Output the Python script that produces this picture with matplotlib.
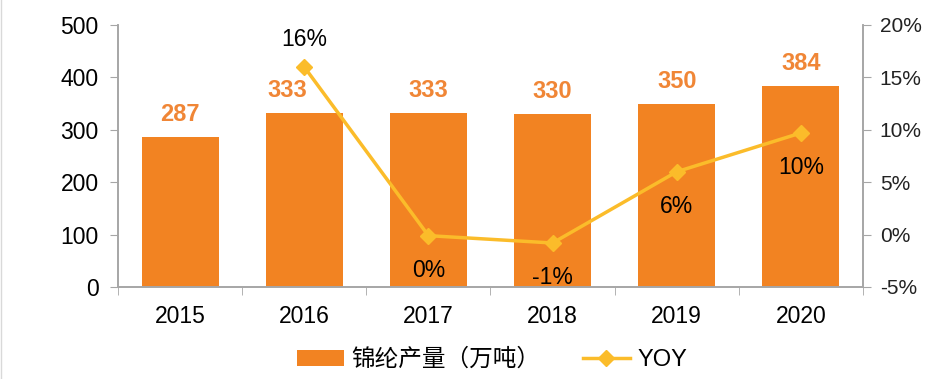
import numpy as np
import matplotlib.pyplot as plt
from matplotlib.ticker import FuncFormatter
from matplotlib.lines import Line2D

plt.rcParams['font.family'] = ['Liberation Sans', 'Noto Sans CJK SC', 'DejaVu Sans']

years = ['2015', '2016', '2017', '2018', '2019', '2020']
output = [287, 333, 333, 330, 350, 384]
yoy = [np.nan, 16.0, -0.1, -0.8, 6.0, 9.7]
yoy_labels = ['', '16%', '0%', '-1%', '6%', '10%']

bar_color = '#F28322'
line_color = '#FBBC2A'
grey = '#A6A6A6'

fig = plt.figure(figsize=(9.44, 3.79), dpi=100)
ax = fig.add_axes([118 / 944, 1 - 287 / 379, 745 / 944, 262 / 379])
ax2 = ax.twinx()

x = np.arange(len(years))
bars = ax.bar(x, output, width=0.62, color=bar_color, zorder=2)
for xi, v in zip(x, output):
    # 2016 label nudged left so it clears the line
    dx = -0.14 if xi == 1 else 0
    ax.text(xi + dx, v + 21, str(v), ha='center', va='bottom', color='#F08636',
            fontsize=17, fontweight='bold')

ax.set_xlim(-0.5, len(years) - 0.5)
ax.set_ylim(0, 500)
ax.set_yticks(range(0, 501, 100))
ax.set_xticks(x)
ax.set_xticklabels(years)
ax.set_xticks(np.arange(-0.5, len(years), 1), minor=True)
ax.tick_params(axis='x', which='major', length=0, pad=13, labelsize=16.5)
ax.tick_params(axis='x', which='minor', length=6, color=grey)
ax.tick_params(axis='y', length=6, color=grey, labelsize=16.5, pad=8)

line, = ax2.plot(x, yoy, color=line_color, lw=2.5, marker='D', markersize=8, zorder=3)
ax2.set_ylim(-5, 20)
ax2.set_yticks(range(-5, 21, 5))
ax2.yaxis.set_major_formatter(FuncFormatter(lambda v, p: f'{v:.0f}%'))
ax2.tick_params(axis='y', length=6, color=grey, labelsize=15, pad=6, labelcolor='#222222')

for xi, v, lab in zip(x, yoy, yoy_labels):
    if not lab:
        continue
    if lab == '16%':
        ax2.text(xi, v + 1.5, lab, ha='center', va='bottom', fontsize=16.5)
    else:
        ax2.text(xi, v - 2.2, lab, ha='center', va='top', fontsize=16.5)

for a in (ax, ax2):
    a.spines['top'].set_visible(False)
    for s in ('left', 'right', 'bottom'):
        a.spines[s].set_color(grey)
        a.spines[s].set_linewidth(1.2)

fig.legend([bars, line], ['锦纶产量（万吨）', 'YOY'], loc='center', bbox_to_anchor=(492 / 944, 1 - 360 / 379),
           ncol=2, frameon=False, fontsize=17, handlelength=2.0, columnspacing=1.8, handletextpad=0.3)

# faint border at the left edge
fig.add_artist(Line2D([0.001, 0.001], [0, 1], transform=fig.transFigure, color='#D9D9D9', lw=1))

fig.savefig('out.png', dpi=100)
